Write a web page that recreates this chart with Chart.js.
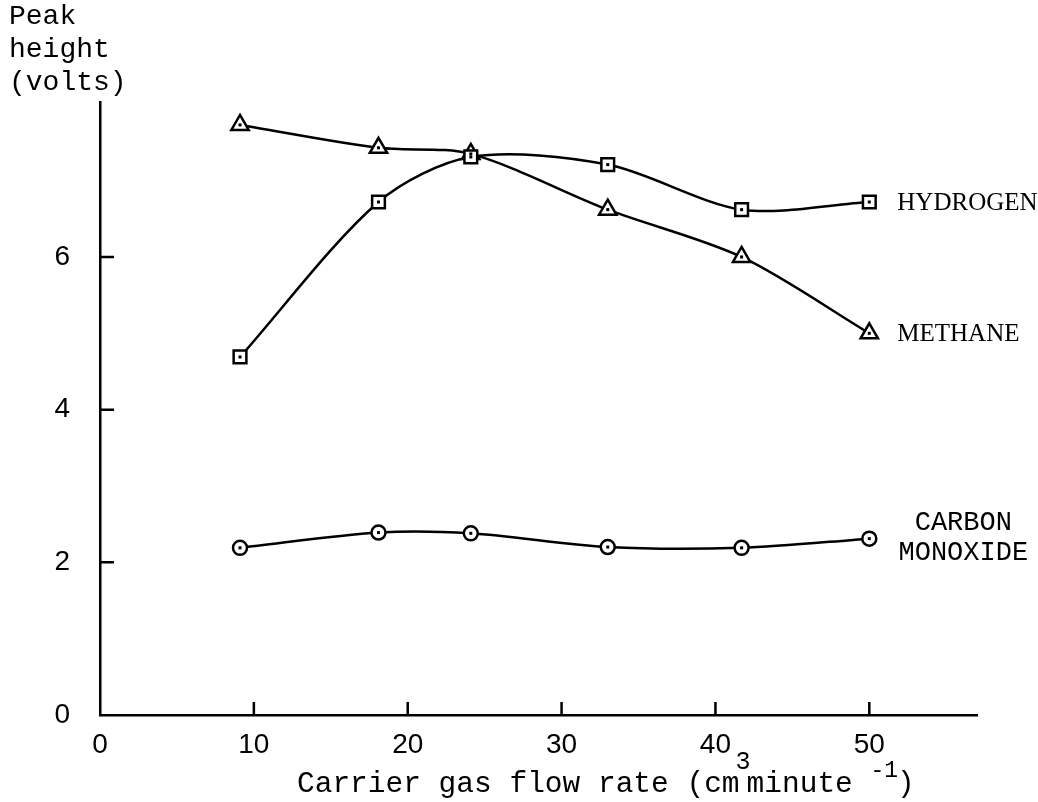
<!DOCTYPE html>
<html>
<head>
<meta charset="utf-8">
<script src="https://cdn.jsdelivr.net/npm/chart.js@4/dist/chart.umd.min.js"></script>
<style>
  body { margin: 0; background: #fff; }
  #wrap { width: 1038px; height: 802px; }
</style>
</head>
<body>
<div id="wrap"><canvas id="gasChart"></canvas></div>
<script>
// Data
const flowRate = [9.1, 18.1, 24.1, 33.0, 41.7, 50.0];
const hydrogen = [4.69, 6.72, 7.31, 7.21, 6.62, 6.72];
const methane = [7.73, 7.43, 7.35, 6.62, 6.00, 5.00];
const carbonMonoxide = [2.19, 2.39, 2.38, 2.20, 2.19, 2.31];
const xTicks = [0, 10, 20, 30, 40, 50];
const yTicks = [0, 2, 4, 6];

const MONO = "'Liberation Mono', 'DejaVu Sans Mono', monospace";
const SERIF = "'Liberation Serif', 'DejaVu Serif', serif";

function pts(ys) {
    return flowRate.map((x, i) => ({ x: x, y: ys[i] }));
}

function series(label, ys, shape, radius, names, font) {
    return {
        label: label,
        names: names,
        nameFont: font,
        data: pts(ys),
        showLine: true,
        borderColor: '#000',
        borderWidth: 2.5,
        tension: 0.3,
        pointStyle: shape,
        pointRadius: radius,
        pointBorderWidth: 2.5,
        pointBorderColor: '#000',
        pointBackgroundColor: '#fff'
    };
}

// little dot in the middle of each marker
const centerDots = {
    id: 'centerDots',
    afterDatasetsDraw(chart) {
        const ctx = chart.ctx;
        ctx.save();
        ctx.fillStyle = '#000';
        chart.data.datasets.forEach((ds, i) => {
            chart.getDatasetMeta(i).data.forEach(p => {
                ctx.fillRect(p.x - 1.5, p.y - 1.5, 3, 3);
            });
        });
        ctx.restore();
    }
};

// tick marks pointing into the plot, as on the original
const insideTicks = {
    id: 'insideTicks',
    afterDraw(chart) {
        const { ctx, scales: { x, y } } = chart;
        ctx.save();
        ctx.strokeStyle = '#000';
        ctx.lineWidth = 2.5;
        ctx.beginPath();
        xTicks.slice(1).forEach(v => {
            const px = x.getPixelForValue(v);
            ctx.moveTo(px, y.bottom);
            ctx.lineTo(px, y.bottom - 13);
        });
        yTicks.slice(1).forEach(v => {
            const py = y.getPixelForValue(v);
            ctx.moveTo(x.left, py);
            ctx.lineTo(x.left + 14, py);
        });
        ctx.stroke();
        ctx.restore();
    }
};

// series names and axis titles
const textLabels = {
    id: 'textLabels',
    afterDraw(chart) {
        const ctx = chart.ctx;
        ctx.save();
        ctx.fillStyle = '#000';
        ctx.textBaseline = 'middle';
        chart.data.datasets.forEach((ds, i) => {
            const pts = chart.getDatasetMeta(i).data;
            const last = pts[pts.length - 1];
            ctx.font = ds.nameFont;
            if (ds.names.length === 1) {
                ctx.textAlign = 'left';
                ctx.fillText(ds.names[0], last.x + 28, last.y + 1);
            } else {
                ctx.textAlign = 'center';
                ctx.fillText(ds.names[0], last.x + 94, last.y - 16);
                ctx.fillText(ds.names[1], last.x + 94, last.y + 14);
            }
        });

        // y title, top left
        ctx.textAlign = 'left';
        ctx.textBaseline = 'alphabetic';
        ctx.font = '28px ' + MONO;
        ctx.fillText('Peak', 9, 24);
        ctx.fillText('height', 9, 57);
        ctx.fillText('(volts)', 9, 90);

        // x title with superscripts: [text, font, raise, shift before, shift after]
        let cx = 297;
        const base = 792;
        const big = '29.5px ' + MONO;
        const parts = [
            ['Carrier gas flow rate (cm', big, 0, 0, 0],
            ['3', '25px ' + MONO, -23, -4, -4],
            ['minute ', big, 0, 0, 0],
            ['-1', '23px ' + MONO, -15, 0, 0],
            [')', big, 0, -1, 0]
        ];
        parts.forEach(([t, f, dy, pre, post]) => {
            ctx.font = f;
            cx += pre;
            ctx.fillText(t, cx, base + dy);
            cx += ctx.measureText(t).width + post;
        });
        ctx.restore();
    }
};

const config = {
    type: 'scatter',
    data: {
        datasets: [
            series('Hydrogen', hydrogen, 'rect', 9, ['HYDROGEN'], '25px ' + SERIF),
            series('Methane', methane, 'triangle', 10, ['METHANE'], '25px ' + SERIF),
            series('Carbon monoxide', carbonMonoxide, 'circle', 7, ['CARBON', 'MONOXIDE'], '27px ' + MONO)
        ]
    },
    options: {
        responsive: true,
        maintainAspectRatio: false,
        animation: false,
        layout: { padding: { top: 102, right: 61, left: 0, bottom: 0 } },
        plugins: {
            legend: { display: false },
            tooltip: { enabled: false }
        },
        scales: {
            x: {
                type: 'linear',
                min: 0,
                max: 57,
                afterFit(s) { s.height = 87; },
                afterBuildTicks(s) { s.ticks = xTicks.map(v => ({ value: v })); },
                grid: { display: false },
                border: { display: true, color: '#000', width: 2.5 },
                ticks: {
                    color: '#000',
                    padding: 5,
                    font: { family: "'Liberation Sans', sans-serif", size: 28 }
                }
            },
            y: {
                min: 0,
                max: 8.03,
                afterFit(s) { s.width = 100; },
                afterBuildTicks(s) { s.ticks = yTicks.map(v => ({ value: v })); },
                grid: { display: false },
                border: { display: true, color: '#000', width: 2.5 },
                ticks: {
                    color: '#000',
                    padding: 22,
                    font: { family: "'Liberation Sans', sans-serif", size: 28 }
                }
            }
        }
    },
    plugins: [centerDots, insideTicks, textLabels]
};

new Chart(document.getElementById('gasChart').getContext('2d'), config);
</script>
</body>
</html>
